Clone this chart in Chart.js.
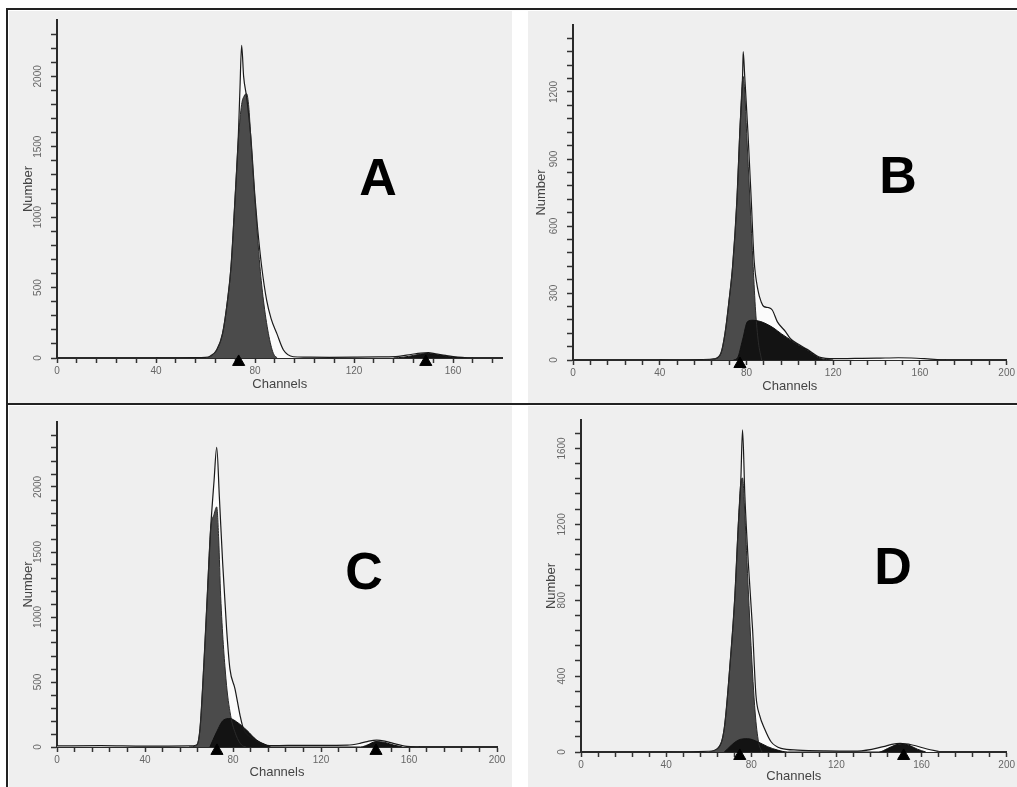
<!DOCTYPE html>
<html>
<head>
<meta charset="utf-8">
<script src="https://cdn.jsdelivr.net/npm/chart.js@4.4.1/dist/chart.umd.min.js"></script>
<style>
  html, body { margin: 0; padding: 0; background: #fff; }
  #sheet { position: relative; width: 1017px; height: 787px; overflow: hidden; background: #fff; }
  .panel { position: absolute; background: #efefef; }
  .panel canvas { position: absolute; left: 0; top: 0; }
  .tag { position: absolute; font: bold 52px "Liberation Sans", Arial, sans-serif; color: #000; line-height: 1; transform: translate(-50%, -50%); }
  .rule { position: absolute; background: #222; }
</style>
</head>
<body>
<div id="sheet">
  <div class="panel" style="left:9px;top:11px;width:503px;height:392px"><canvas id="cA" width="503" height="392"></canvas></div>
  <div class="panel" style="left:528px;top:11px;width:489px;height:392px"><canvas id="cB" width="489" height="392"></canvas></div>
  <div class="panel" style="left:9px;top:406px;width:503px;height:381px"><canvas id="cC" width="503" height="381"></canvas></div>
  <div class="panel" style="left:528px;top:406px;width:489px;height:381px"><canvas id="cD" width="489" height="381"></canvas></div>
  <div class="rule" style="left:6px;top:8px;width:1011px;height:2px"></div>
  <div class="rule" style="left:6px;top:8px;width:2px;height:779px"></div>
  <div class="rule" style="left:6px;top:403px;width:1011px;height:2px"></div>
  <div class="tag" style="left:378px;top:177px">A</div>
  <div class="tag" style="left:898px;top:175px">B</div>
  <div class="tag" style="left:364px;top:571px">C</div>
  <div class="tag" style="left:893px;top:566px">D</div>
</div>
<script>
// --- panel A ---
const aDataCh = [40, 55, 60, 62, 64.5, 66.9, 68.9, 70.3, 71.9, 73.3, 73.9, 74.6, 75.4, 76.6, 78.2, 80, 81, 82.7, 84.7, 86.5, 88.8, 91.5, 95.5, 100, 110, 120, 130, 138, 143, 147, 150, 153, 157, 162, 168];
const aDataN  = [0, 3, 5, 15, 57, 175, 411, 648, 1121, 1593, 1900, 2220, 2000, 1853, 1593, 1140, 930, 648, 411, 280, 175, 57, 9, 6, 5, 6, 8, 12, 25, 35, 38, 30, 18, 6, 0];
const aG1Ch = [60, 62, 64.5, 66.9, 68.9, 70.3, 71.9, 73.3, 74.6, 75.6, 76.6, 77.5, 78.2, 80, 82, 83.4, 85.4, 87.4, 89];
const aG1N  = [0, 10, 57, 175, 411, 648, 1121, 1560, 1800, 1860, 1877, 1780, 1593, 1121, 648, 411, 175, 33, 0];
const aSCh = [136, 140, 144, 148, 150, 152, 156, 160, 164];
const aSN  = [0, 6, 18, 30, 32, 28, 16, 5, 0];
const aPeaks = [73.4, 149];
const aXTicks = [0, 40, 80, 120, 160];
const aYTicks = [0, 500, 1000, 1500, 2000];

// --- panel B ---
const bDataCh = [40, 60, 65.1, 68.2, 70.1, 72, 73.6, 75.6, 76.9, 78.2, 78.5, 79.2, 80.7, 82.2, 83.5, 85.3, 86.8, 88.1, 90, 91.9, 94.2, 98, 100.3, 104, 108, 114, 120, 130, 140, 150, 156, 162, 168, 172];
const bDataN  = [0, 2, 5, 30, 119, 269, 418, 717, 1015, 1269, 1381, 1269, 1015, 717, 450, 313, 260, 239, 235, 224, 172, 127, 95, 70, 48, 12, 6, 7, 8, 10, 9, 6, 2, 0];
const bG1Ch = [60, 65.1, 68.2, 70.1, 72, 73.6, 75.6, 76.9, 77.8, 78.5, 79.2, 80.1, 81.6, 83.1, 84.2, 85.5, 87];
const bG1N  = [0, 5, 30, 119, 269, 418, 717, 1015, 1200, 1269, 1200, 1015, 717, 418, 220, 80, 0];
const bSCh = [74, 75.9, 78.2, 80.5, 83, 86.6, 89.5, 92.7, 96, 100.3, 104, 108, 111, 114, 117, 120];
const bSN  = [0, 10, 90, 172, 178, 172, 160, 142, 118, 90, 66, 45, 25, 7, 2, 0];
const bPeaks = [77];
const bXTicks = [0, 40, 80, 120, 160, 200];
const bYTicks = [0, 300, 600, 900, 1200];

// --- panel C ---
const cDataCh = [0, 20, 40, 60, 63.5, 65, 66.8, 68.3, 69.8, 71.4, 72.6, 73.8, 75.3, 77.1, 78.6, 80.9, 83.2, 84.7, 89.2, 96.8, 105, 120, 132, 137.7, 141, 145.3, 149, 152.8, 159, 165];
const cDataN  = [8, 10, 6, 8, 15, 142, 651, 1160, 1669, 2050, 2305, 1923, 1415, 906, 601, 448, 244, 142, 66, 10, 12, 12, 14, 28, 42, 53, 45, 28, 5, 0];
const cG1Ch = [60, 63.5, 65, 66.8, 68.3, 69.8, 71.4, 72.6, 73.5, 74.4, 76.8, 78.9, 81.4, 83.9, 86];
const cG1N  = [0, 15, 142, 651, 1160, 1669, 1790, 1847, 1600, 1160, 524, 244, 91, 15, 0];
const cSCh = [69.5, 72.6, 75.6, 78.6, 81.7, 86.2, 90.8, 95.3, 97.6, 138, 141, 145, 149, 153, 157];
const cSN  = [0, 117, 206, 219, 193, 130, 53, 15, 0, 0, 15, 42, 35, 15, 0];
const cPeaks = [72.7, 145];
const cXTicks = [0, 40, 80, 120, 160, 200];
const cYTicks = [0, 500, 1000, 1500, 2000];

// --- panel D ---
const dDataCh = [40, 60, 64.2, 67.3, 70.1, 72.3, 73.8, 75.1, 75.9, 77, 78.6, 80.6, 82.2, 83.9, 86.2, 89.3, 94, 101.8, 115, 130, 142, 146, 150, 155.6, 162.6, 168];
const dDataN  = [0, 4, 19, 124, 474, 824, 1173, 1435, 1698, 1348, 999, 649, 299, 194, 124, 54, 19, 10, 6, 5, 28, 40, 45, 37, 16, 3];
const dG1Ch = [60, 64.2, 67.3, 70.1, 72.3, 73.8, 75.1, 75.9, 77, 78, 79.9, 81.8, 83.4, 85];
const dG1N  = [0, 19, 124, 474, 824, 1173, 1420, 1444, 1250, 999, 561, 211, 54, 0];
const dSCh = [67.3, 73.6, 78.3, 83, 87.7, 92.4, 97, 140, 144, 148, 151, 154, 158, 162];
const dSN  = [0, 61, 70, 54, 28, 10, 0, 0, 18, 38, 42, 36, 15, 0];
const dPeaks = [74.6, 151.6];
const dXTicks = [0, 40, 80, 120, 160, 200];
const dYTicks = [0, 400, 800, 1200, 1600];

const FONT = '"Liberation Sans", Arial, sans-serif';

function pts(xs, ys) {
  return xs.map((x, i) => ({ x, y: ys[i] }));
}

function tickList(step, max) {
  const out = [];
  for (let v = 0; v <= max; v += step) out.push({ value: v });
  return out;
}

function makePanel(id, p) {
  const ctx = document.getElementById(id);
  return new Chart(ctx, {
    type: 'line',
    data: {
      datasets: [
        { label: 'Data', data: pts(p.dataCh, p.dataN), borderColor: '#1a1a1a', borderWidth: 1.2,
          backgroundColor: '#fbfbfb', fill: 'origin', pointRadius: 0, cubicInterpolationMode: 'monotone', order: 3 },
        { label: 'G0/G1', data: pts(p.g1Ch, p.g1N), borderColor: '#2b2b2b', borderWidth: 1,
          backgroundColor: '#4b4b4b', fill: 'origin', pointRadius: 0, cubicInterpolationMode: 'monotone', order: 2 },
        { label: 'S / G2M', data: pts(p.sCh, p.sN), borderColor: '#111', borderWidth: 1,
          backgroundColor: '#131313', fill: 'origin', pointRadius: 0, cubicInterpolationMode: 'monotone', order: 1 },
        { type: 'scatter', label: 'Peak', data: p.peaks.map(c => ({ x: c, y: p.markY })),
          pointStyle: 'triangle', pointRadius: 7, backgroundColor: '#000', borderColor: '#000', clip: false, order: 0 }
      ]
    },
    options: {
      responsive: false,
      animation: false,
      events: [],
      layout: { padding: { left: 0, right: p.padR, top: p.padT, bottom: 0 } },
      plugins: { legend: { display: false }, tooltip: { enabled: false }, filler: { drawTime: 'beforeDatasetsDraw' } },
      scales: {
        x: {
          type: 'linear', min: 0, max: p.xMax,
          afterBuildTicks: s => { s.ticks = tickList(8, p.xMax); },
          afterFit: s => { s.height = p.xH; },
          ticks: { autoSkip: false, maxRotation: 0, padding: 2, color: '#666', font: { family: FONT, size: 10 },
                   callback: v => p.xTicks.includes(v) ? String(v) : '' },
          grid: { drawOnChartArea: false, tickLength: 5, tickWidth: 1.5, color: '#333' },
          border: { color: '#2a2a2a', width: 2 },
          title: { display: true, text: 'Channels', color: '#444', font: { family: FONT, size: 13 }, padding: { top: p.xTitlePad, bottom: p.xTitlePad } }
        },
        y: {
          type: 'linear', min: 0, max: p.yMax,
          afterBuildTicks: s => { s.ticks = tickList(p.yStep, p.yMax - 1); },
          afterFit: s => { s.width = p.yW; },
          ticks: { autoSkip: false, minRotation: 90, maxRotation: 90, crossAlign: 'center', padding: 2, color: '#666',
                   font: { family: FONT, size: 10 }, callback: v => p.yTicks.includes(v) ? String(v) : '' },
          grid: { drawOnChartArea: false, tickLength: 6, tickWidth: 1.5, color: '#333' },
          border: { color: '#2a2a2a', width: 2 },
          title: { display: true, text: 'Number', color: '#444', font: { family: FONT, size: 13 }, padding: { top: p.yTitlePad, bottom: p.yTitlePad } }
        }
      }
    }
  });
}

makePanel('cA', { dataCh: aDataCh, dataN: aDataN, g1Ch: aG1Ch, g1N: aG1N, sCh: aSCh, sN: aSN, peaks: aPeaks,
  xTicks: aXTicks, yTicks: aYTicks, xMax: 180, yMax: 2400, yStep: 100, markY: -28,
  yW: 48, xH: 45, padR: 9.5, padT: 9, xTitlePad: 11, yTitlePad: 12 });
makePanel('cB', { dataCh: bDataCh, dataN: bDataN, g1Ch: bG1Ch, g1N: bG1N, sCh: bSCh, sN: bSN, peaks: bPeaks,
  xTicks: bXTicks, yTicks: bYTicks, xMax: 200, yMax: 1500, yStep: 60, markY: -18,
  yW: 45, xH: 43, padR: 9, padT: 14, xTitlePad: 9, yTitlePad: 6 });
makePanel('cC', { dataCh: cDataCh, dataN: cDataN, g1Ch: cG1Ch, g1N: cG1N, sCh: cSCh, sN: cSN, peaks: cPeaks,
  xTicks: cXTicks, yTicks: cYTicks, xMax: 200, yMax: 2500, yStep: 100, markY: -30,
  yW: 48, xH: 40, padR: 15, padT: 16, xTitlePad: 7, yTitlePad: 12 });
makePanel('cD', { dataCh: dDataCh, dataN: dDataN, g1Ch: dG1Ch, g1N: dG1N, sCh: dSCh, sN: dSN, peaks: dPeaks,
  xTicks: dXTicks, yTicks: dYTicks, xMax: 200, yMax: 1750, yStep: 80, markY: -21,
  yW: 53, xH: 35, padR: 9, padT: 14, xTitlePad: 3, yTitlePad: 16 });
</script>
</body>
</html>
